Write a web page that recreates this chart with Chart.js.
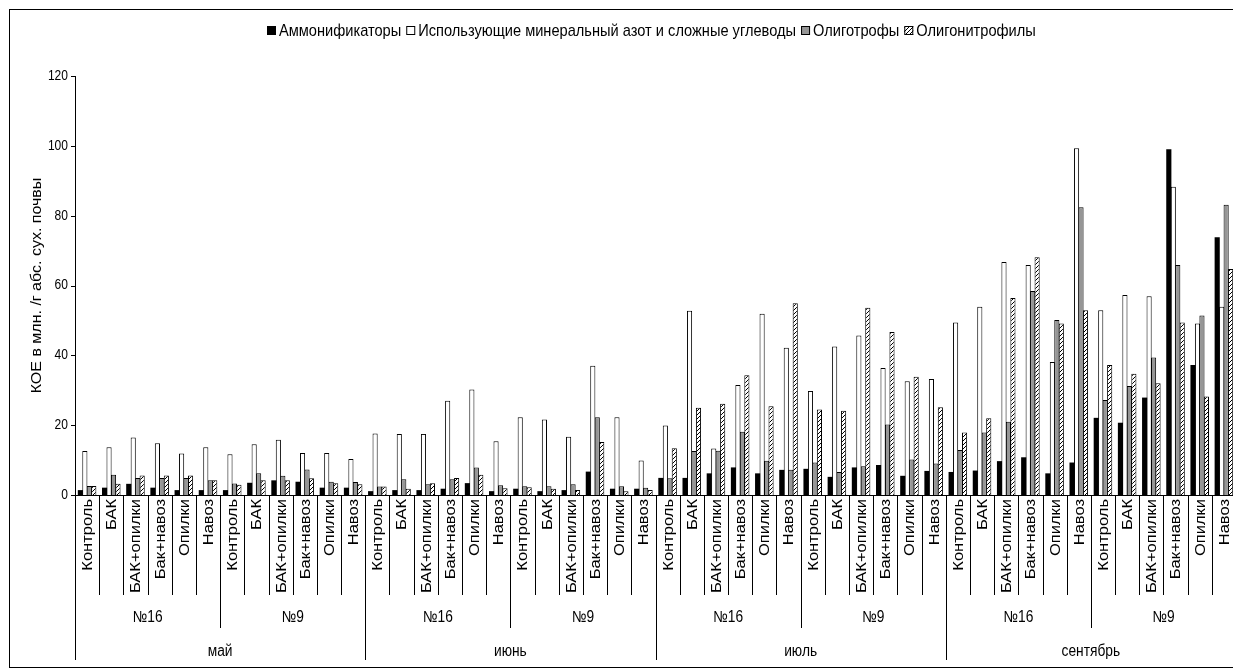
<!DOCTYPE html>
<html>
<head>
<meta charset="utf-8">
<script src="https://cdn.jsdelivr.net/npm/chart.js@4.4.1/dist/chart.umd.min.js"></script>
<style>
  html, body { margin: 0; padding: 0; overflow: hidden; background: #fff; }
</style>
</head>
<body>
<canvas id="chart" width="1240" height="670"></canvas>
<script>
const months = ['май', 'июнь', 'июль', 'сентябрь'];
const sites = ['№16', '№9'];
const treatments = ['Контроль', 'БАК', 'БАК+опилки', 'Бак+навоз', 'Опилки', 'Навоз'];
const seriesNames = ['Аммонификаторы', 'Использующие минеральный азот и сложные углеводы', 'Олиготрофы', 'Олигонитрофилы'];

// values, 48 categories: month x site x treatment
const ammonifiers = [1.4, 2.1, 3.2, 2.1, 1.4, 1.4, 1.4, 3.5, 4.2, 3.8, 2.1, 2.1,
  1.1, 1.4, 1.4, 1.8, 3.4, 1.1, 1.8, 1.1, 1.4, 6.7, 1.8, 1.8,
  4.9, 4.9, 6.2, 7.9, 6.2, 7.2, 7.5, 5.2, 7.9, 8.6, 5.5, 6.9,
  6.6, 7.0, 9.7, 10.8, 6.2, 9.3, 22.1, 20.7, 27.9, 99.0, 37.2, 73.8];
const mineralN = [12.6, 13.7, 16.5, 14.8, 11.9, 13.7, 11.7, 14.5, 15.8, 12.0, 12.0, 10.3,
  17.6, 17.5, 17.5, 27.0, 30.2, 15.4, 22.3, 21.6, 16.7, 37.0, 22.3, 9.9,
  19.9, 52.8, 13.3, 31.5, 51.9, 42.2, 29.8, 42.5, 45.7, 36.4, 32.6, 33.2,
  49.4, 53.9, 66.7, 65.9, 38.1, 99.3, 52.9, 57.3, 56.9, 88.3, 49.1, 53.9];
const oligotrophs = [2.6, 5.8, 4.9, 4.9, 4.9, 4.2, 3.3, 6.2, 5.5, 7.3, 3.8, 3.7,
  2.4, 4.5, 3.1, 4.5, 7.9, 2.8, 2.5, 2.5, 3.1, 22.3, 2.5, 2.1,
  4.8, 12.6, 12.7, 18.1, 9.8, 7.2, 9.3, 6.6, 8.2, 20.2, 10.2, 9.0,
  12.9, 17.9, 21.0, 58.4, 50.1, 82.4, 27.2, 31.2, 39.4, 65.9, 51.4, 83.1];
const oligonitrophils = [2.6, 3.2, 5.6, 5.6, 5.6, 4.2, 2.9, 4.2, 4.2, 4.8, 3.4, 3.1,
  2.4, 1.8, 3.4, 4.9, 5.8, 1.9, 2.2, 1.8, 1.4, 15.2, 1.1, 1.4,
  13.4, 25.0, 26.1, 34.3, 25.4, 54.9, 24.5, 24.1, 53.6, 46.7, 33.9, 25.1,
  17.9, 22.0, 56.4, 68.1, 49.1, 52.9, 37.2, 34.7, 32.0, 49.4, 28.2, 64.7];
const yTicks = [0, 20, 40, 60, 80, 100, 120];
const yTitle = 'КОЕ в млн. /г абс. сух. почвы';

const FONT = "'Liberation Sans', Arial, sans-serif";
const SQUEEZE = 0.86; // text in the picture is narrower than plain Arial

const labels = [];
months.forEach(m => sites.forEach(s => treatments.forEach(t => labels.push(t))));

const canvas = document.getElementById('chart');
const ctx = canvas.getContext('2d');

// diagonal hatch for the last series
function makeHatch() {
    const p = document.createElement('canvas');
    p.width = 4; p.height = 4;
    const g = p.getContext('2d');
    g.fillStyle = '#fff';
    g.fillRect(0, 0, 4, 4);
    g.strokeStyle = '#000';
    g.lineWidth = 1;
    g.beginPath();
    g.moveTo(-1, 5); g.lineTo(5, -1);
    g.stroke();
    return ctx.createPattern(p, 'repeat');
}
const hatch = makeHatch();
const fills = ['#000000', '#ffffff', '#969696', hatch];

function text(c, s, x, y, size, align, baseline, rot) {
    c.save();
    c.translate(x, y);
    c.scale(SQUEEZE, 1);
    if (rot) c.rotate(rot);
    c.font = size + 'px ' + FONT;
    c.fillStyle = '#000';
    c.textAlign = align || 'center';
    c.textBaseline = baseline || 'middle';
    c.fillText(s, 0, 0);
    c.restore();
}

function textWidth(c, s, size) {
    c.font = size + 'px ' + FONT;
    return c.measureText(s).width * SQUEEZE;
}

function vline(c, x, y1, y2) {
    c.beginPath();
    c.moveTo(Math.round(x) + 0.5, y1);
    c.lineTo(Math.round(x) + 0.5, y2);
    c.stroke();
}

const decorations = {
    id: 'decorations',
    afterDraw(chart) {
        const c = chart.ctx;
        const area = chart.chartArea;
        const xs = chart.scales.x;
        const ys = chart.scales.y;
        const n = labels.length;
        const step = (area.right - area.left) / n;
        c.save();
        c.strokeStyle = '#000';
        c.lineWidth = 1;

        // frame
        c.strokeRect(9.5, 9.5, 1300, 658);

        // y ticks and labels
        yTicks.forEach(v => {
            const y = ys.getPixelForValue(v);
            c.beginPath();
            c.moveTo(area.left - 4, Math.round(y) + 0.5);
            c.lineTo(area.left, Math.round(y) + 0.5);
            c.stroke();
            text(c, String(v), area.left - 7, y, 14, 'right', 'middle');
        });
        text(c, yTitle, 37, (area.top + area.bottom) / 2, 16, 'center', 'middle', -Math.PI / 2);

        // category labels
        labels.forEach((l, i) => {
            const x = xs.getPixelForValue(i);
            text(c, l, x + 1, area.bottom + 4, 16.5, 'right', 'middle', -Math.PI / 2);
        });
        // separators
        for (let i = 0; i <= n; i++) {
            const x = area.left + i * step;
            let y2 = area.bottom + 100;
            if (i % 6 === 0) y2 = area.bottom + 133;
            if (i % 12 === 0) y2 = area.bottom + 165;
            vline(c, x, area.bottom, y2);
        }
        // site labels
        for (let g = 0; g < 8; g++) {
            const x = area.left + (g * 6 + 3) * step;
            text(c, sites[g % 2], x, area.bottom + 123, 16, 'center', 'middle');
        }
        // month labels
        for (let m = 0; m < 4; m++) {
            const x = area.left + (m * 12 + 6) * step;
            text(c, months[m], x, area.bottom + 157, 16, 'center', 'middle');
        }

        // legend
        const box = 9, gapBox = 3, gapItem = 5, lsize = 17;
        let total = 0;
        seriesNames.forEach((s, i) => {
            total += box + gapBox + textWidth(c, s, lsize) + (i < 3 ? gapItem : 0);
        });
        let lx = Math.round(651 - total / 2);
        const ly = 31;
        seriesNames.forEach((s, i) => {
            c.fillStyle = fills[i];
            c.fillRect(lx, ly - 5, box, box);
            c.strokeRect(lx + 0.5, ly - 4.5, box - 1, box - 1);
            lx += box + gapBox;
            text(c, s, lx, ly, lsize, 'left', 'middle');
            lx += textWidth(c, s, lsize) + gapItem;
        });
        c.restore();
    }
};

const series = [ammonifiers, mineralN, oligotrophs, oligonitrophils];

new Chart(ctx, {
    type: 'bar',
    data: {
        labels: labels,
        datasets: series.map((d, i) => ({
            label: seriesNames[i],
            data: d,
            backgroundColor: fills[i],
            borderColor: '#000',
            borderWidth: i === 0 ? 0 : 1,
            borderSkipped: 'bottom',
            categoryPercentage: 0.74,
            barPercentage: 1.15
        }))
    },
    options: {
        responsive: false,
        animation: false,
        layout: { padding: { left: 75, top: 76, right: 4, bottom: 175 } },
        plugins: { legend: { display: false }, tooltip: { enabled: false } },
        scales: {
            x: {
                ticks: { display: false },
                grid: { display: false, drawTicks: false },
                border: { display: true, color: '#000', width: 1 }
            },
            y: {
                min: 0, max: 120,
                ticks: { display: false, stepSize: 20 },
                grid: { display: false, drawTicks: false },
                border: { display: true, color: '#000', width: 1 }
            }
        }
    },
    plugins: [decorations]
});
</script>
</body>
</html>
